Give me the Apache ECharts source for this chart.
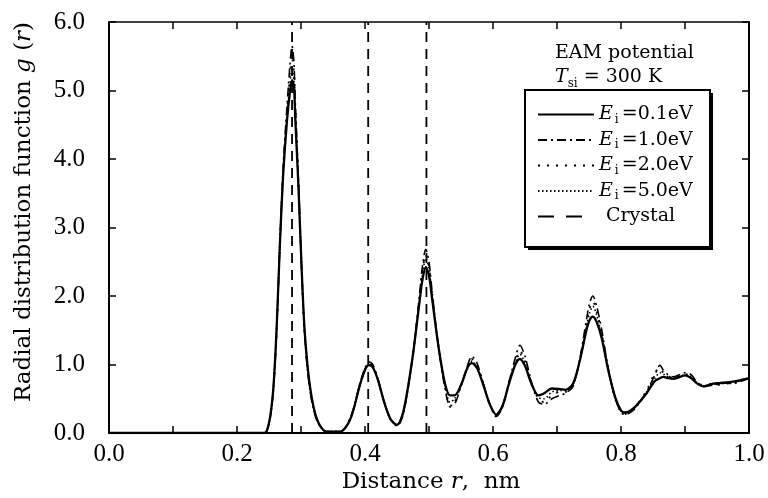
<!DOCTYPE html>
<html>
<head>
<meta charset="utf-8">
<script src="https://cdn.jsdelivr.net/npm/echarts@6/dist/echarts.min.js"></script>
<style>html,body{margin:0;padding:0;background:#fff;}#c{width:768px;height:498px;}</style>
</head>
<body>
<div id="c"></div>
<script>
// Distance r (nm)
var rValues = [0.0,0.24,0.246,0.252,0.257,0.262,0.267,0.272,0.278,0.283,0.286,0.289,0.291,0.296,0.301,0.306,0.314,0.325,0.34,0.361,0.377,0.392,0.4,0.406,0.412,0.42,0.43,0.44,0.45,0.458,0.465,0.475,0.485,0.49,0.495,0.5,0.505,0.515,0.525,0.533,0.54,0.55,0.56,0.567,0.575,0.585,0.595,0.605,0.615,0.625,0.635,0.642,0.65,0.66,0.671,0.68,0.692,0.705,0.713,0.725,0.736,0.746,0.751,0.756,0.762,0.77,0.78,0.791,0.8,0.806,0.815,0.824,0.84,0.853,0.861,0.866,0.874,0.882,0.9,0.91,0.918,0.929,0.944,0.955,0.965,0.975,0.986,1.0];
// g(r) for Ei = 0.1 eV
var gE01 = [0,0,0.02,0.25,0.68,1.55,2.75,3.75,4.55,5.0,5.15,5.05,4.6,3.6,2.4,1.45,0.68,0.2,0.02,0.02,0.2,0.7,0.92,0.99,0.96,0.78,0.45,0.2,0.12,0.25,0.55,1.15,1.9,2.25,2.42,2.3,1.95,1.25,0.72,0.55,0.55,0.7,0.95,1.02,0.95,0.7,0.42,0.27,0.4,0.72,1.0,1.08,0.98,0.72,0.55,0.58,0.65,0.64,0.63,0.72,1.07,1.5,1.65,1.7,1.62,1.38,0.92,0.52,0.33,0.3,0.33,0.4,0.58,0.76,0.8,0.82,0.8,0.79,0.84,0.8,0.73,0.68,0.72,0.73,0.74,0.75,0.77,0.8];
// g(r) for Ei = 1.0 eV
var gE10 = [0,0,0.02,0.22,0.65,1.5,2.75,3.85,4.75,5.4,5.65,5.4,4.85,3.7,2.4,1.4,0.62,0.18,0.02,0.02,0.22,0.72,0.95,1.04,1.0,0.8,0.45,0.2,0.1,0.22,0.52,1.15,2.0,2.45,2.68,2.5,2.05,1.25,0.65,0.4,0.42,0.68,0.98,1.12,1.02,0.72,0.42,0.24,0.38,0.75,1.1,1.28,1.12,0.75,0.45,0.42,0.5,0.55,0.58,0.68,1.1,1.65,1.9,2.0,1.85,1.5,0.95,0.5,0.3,0.27,0.3,0.38,0.6,0.85,0.99,0.92,0.85,0.82,0.88,0.85,0.75,0.68,0.7,0.72,0.73,0.72,0.75,0.8];
// g(r) for Ei = 2.0 eV
var gE20 = [0,0,0.02,0.24,0.66,1.52,2.75,3.8,4.65,5.25,5.45,5.25,4.75,3.65,2.4,1.42,0.65,0.19,0.02,0.02,0.21,0.71,0.93,1.01,0.98,0.79,0.45,0.2,0.11,0.23,0.53,1.15,1.95,2.38,2.6,2.45,2.0,1.25,0.68,0.38,0.45,0.7,0.96,1.08,0.98,0.7,0.42,0.25,0.4,0.74,1.05,1.2,1.05,0.74,0.5,0.45,0.55,0.6,0.6,0.7,1.08,1.6,1.82,1.92,1.78,1.45,0.93,0.5,0.31,0.28,0.32,0.4,0.62,0.88,0.95,0.88,0.83,0.8,0.86,0.83,0.74,0.7,0.72,0.7,0.72,0.74,0.76,0.8];
// g(r) for Ei = 5.0 eV
var gE50 = [0,0,0.02,0.25,0.67,1.53,2.75,3.78,4.6,5.12,5.3,5.15,4.68,3.62,2.4,1.43,0.66,0.2,0.02,0.02,0.2,0.7,0.92,1.0,0.97,0.78,0.45,0.2,0.12,0.24,0.54,1.15,1.92,2.32,2.55,2.4,1.98,1.25,0.7,0.45,0.5,0.7,0.95,1.05,0.96,0.7,0.42,0.26,0.4,0.73,1.02,1.15,1.02,0.73,0.52,0.5,0.6,0.62,0.62,0.71,1.07,1.55,1.75,1.85,1.72,1.42,0.92,0.51,0.32,0.29,0.33,0.4,0.6,0.8,0.88,0.86,0.82,0.8,0.85,0.82,0.74,0.69,0.71,0.72,0.73,0.74,0.76,0.8];
// Crystal neighbour shells (nm)
var crystalPeaks = [0.286, 0.405, 0.496];
var crystalTop = 6.0;
// Tick labels
var xTickLabels = ['0.0','0.2','0.4','0.6','0.8','1.0'];
var yTickLabels = ['0.0','1.0','2.0','3.0','4.0','5.0','6.0'];
var seriesNames = ['E01','E10','E20','E50','Crystal'];
var legendTexts = {
  E01: '{e|E}{s|i}{t|=0.1eV}',
  E10: '{e|E}{s|i}{t|=1.0eV}',
  E20: '{e|E}{s|i}{t|=2.0eV}',
  E50: '{e|E}{s|i}{t|=5.0eV}',
  Crystal: '{c|Crystal}'
};

function pairs(ys){ return rValues.map(function(r,i){ return [r, ys[i]]; }); }
function crystalData(){
  var d = [];
  crystalPeaks.forEach(function(p){ d.push([p, 0]); d.push([p, crystalTop]); d.push([p, '-']); });
  return d;
}

var FONT = 'DejaVu Serif';
var TICKFONT = 'Liberation Serif';
var chart = echarts.init(document.getElementById('c'), null, {renderer:'canvas'});

var lineBase = {type:'line', showSymbol:false, symbol:'none', smooth:0.3, silent:true, animation:false, z:3};

var option = {
  animation: false,
  backgroundColor: '#fff',
  grid: {left:109, right:19, top:22, bottom:65, containLabel:false},
  xAxis: [{
    type:'value', min:0, max:1, interval:0.1, position:'bottom',
    axisLine:{show:true, onZero:false, lineStyle:{color:'#000', width:2}},
    axisTick:{show:true, inside:true, length:7, lineStyle:{color:'#000', width:1.5}},
    axisLabel:{show:true, color:'#000', fontFamily:TICKFONT, fontSize:25, margin:9,
      formatter:function(v){ var k = Math.round(v*10); return (k%2===0) ? xTickLabels[k/2] : ''; }},
    splitLine:{show:false}
  },{
    type:'value', min:0, max:1, interval:0.1, position:'top',
    axisLine:{show:true, onZero:false, lineStyle:{color:'#000', width:1.5}},
    axisTick:{show:true, inside:true, length:7, lineStyle:{color:'#000', width:1.5}},
    axisLabel:{show:false}, splitLine:{show:false}
  }],
  yAxis: [{
    type:'value', min:0, max:6, interval:1, position:'left',
    axisLine:{show:true, onZero:false, lineStyle:{color:'#000', width:2}},
    axisTick:{show:true, inside:true, length:7, lineStyle:{color:'#000', width:1.5}},
    axisLabel:{show:true, color:'#000', fontFamily:TICKFONT, fontSize:25, margin:24,
      formatter:function(v){ return yTickLabels[Math.round(v)]; }},
    splitLine:{show:false}
  },{
    type:'value', min:0, max:6, interval:1, position:'right',
    axisLine:{show:true, onZero:false, lineStyle:{color:'#000', width:2}},
    axisTick:{show:true, inside:true, length:7, lineStyle:{color:'#000', width:1.5}},
    axisLabel:{show:false}, splitLine:{show:false}
  }],
  legend: {
    show:true, orient:'vertical', left:525, top:90, z:20,
    itemWidth:56, itemHeight:14, itemGap:5,
    padding:[15,10,12,12],
    backgroundColor:'transparent', borderWidth:0,
    itemStyle:{color:'rgba(0,0,0,0)', borderColor:'rgba(0,0,0,0)', borderWidth:0, opacity:0},
    data: seriesNames.map(function(n){
      return n === 'Crystal' ? {name:n, lineStyle:{type:[16,12], width:2}} : {name:n};
    }),
    selectedMode:false,
    formatter:function(n){ return legendTexts[n]; },
    textStyle:{
      color:'#000', fontFamily:FONT, fontSize:19,
      rich:{
        e:{fontFamily:FONT, fontStyle:'italic', fontSize:19, lineHeight:22, color:'#000'},
        s:{fontFamily:FONT, fontSize:12, lineHeight:22, verticalAlign:'bottom', padding:[0,3,0,2], color:'#000'},
        t:{fontFamily:FONT, fontSize:19, lineHeight:22, color:'#000'},
        c:{fontFamily:FONT, fontSize:19, lineHeight:22, padding:[0,0,0,7], color:'#000'}
      }
    }
  },
  graphic: [
    {type:'rect', z:5, silent:true, shape:{x:528, y:93, width:185, height:157}, style:{fill:'#000'}},
    {type:'rect', z:6, silent:true, shape:{x:525, y:90, width:185, height:157}, style:{fill:'#fff', stroke:'#000', lineWidth:2}},
    {type:'text', left:555, top:44, silent:true, style:{text:'EAM potential', font:'19px "DejaVu Serif"', fill:'#000'}},
    {type:'text', left:555, top:68, silent:true, style:{
      text:'{e|T}{s|si}{t| = 300 K}', fill:'#000',
      rich:{
        e:{fontFamily:FONT, fontStyle:'italic', fontSize:19, lineHeight:24},
        s:{fontFamily:FONT, fontSize:12, lineHeight:24, verticalAlign:'bottom'},
        t:{fontFamily:FONT, fontSize:19, lineHeight:24}
      }}},
    {type:'text', x:431, y:482, silent:true, style:{
      text:'{a|Distance }{i|r}{a|,  nm}', fill:'#000', align:'center', verticalAlign:'middle',
      rich:{
        a:{fontFamily:FONT, fontSize:23},
        i:{fontFamily:FONT, fontSize:23, fontStyle:'italic'}
      }}},
    {type:'text', x:24, y:212, rotation:Math.PI/2, silent:true, style:{
      text:'{a|Radial distribution function }{i|g}{a| (}{i|r}{a|)}', fill:'#000',
      align:'center', verticalAlign:'middle',
      rich:{
        a:{fontFamily:FONT, fontSize:23},
        i:{fontFamily:FONT, fontSize:23, fontStyle:'italic'}
      }}}
  ],
  series: [
    {name:'Crystal', type:'line', data:crystalData(), symbol:'none', showSymbol:false, connectNulls:false,
      silent:true, animation:false, z:2,
      lineStyle:{color:'#000', width:1.8, type:[10,7]}},
    Object.assign({}, lineBase, {name:'E50', data:pairs(gE50), lineStyle:{color:'#000', width:1.6, type:[1.5,2.5]}}),
    Object.assign({}, lineBase, {name:'E20', data:pairs(gE20), lineStyle:{color:'#000', width:1.8, type:[2,7]}}),
    Object.assign({}, lineBase, {name:'E10', data:pairs(gE10), lineStyle:{color:'#000', width:1.6, type:[9,4,2,4]}}),
    Object.assign({}, lineBase, {name:'E01', data:pairs(gE01), lineStyle:{color:'#000', width:2.3, type:'solid'}, z:4})
  ]
};
chart.setOption(option);
</script>
</body>
</html>
